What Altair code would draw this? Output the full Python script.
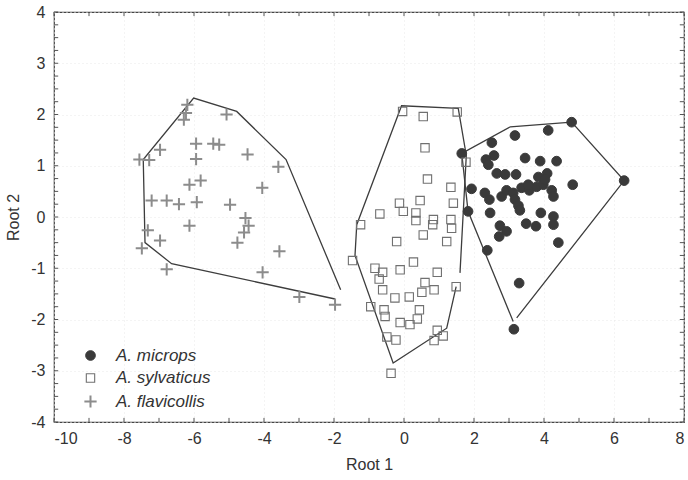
import altair as alt
import pandas as pd

species = ["A. microps", "A. sylvaticus", "A. flavicollis"]

# Discriminant scores (Root 1, Root 2) for each specimen
microps_x = [4.79, 4.12, 3.17, 2.51, 1.65, 2.57, 2.34, 2.41, 3.46, 3.89, 4.36, 2.65,
             2.89, 3.20, 3.84, 4.09, 4.82, 6.29, 1.93, 2.31, 2.44, 2.79, 2.93, 3.12,
             3.36, 3.58, 3.79, 3.98, 4.03, 4.22, 4.27, 3.17, 3.27, 3.31, 2.46, 3.91,
             4.27, 4.27, 3.49, 3.77, 2.74, 2.93, 2.72, 1.83, 4.41, 2.38, 3.29, 3.14, 3.55]
microps_y = [1.85, 1.69, 1.59, 1.45, 1.24, 1.20, 1.12, 1.02, 1.15, 1.09, 1.09, 0.85,
             0.83, 0.83, 0.78, 0.85, 0.63, 0.71, 0.55, 0.47, 0.34, 0.40, 0.52, 0.47,
             0.57, 0.52, 0.59, 0.63, 0.73, 0.52, 0.40, 0.34, 0.22, 0.13, 0.08, 0.08,
             0.01, -0.15, -0.13, -0.18, -0.17, -0.28, -0.38, 0.11, -0.50, -0.65, -1.29, -2.19, 0.63]

sylvaticus_x = [-0.04, 0.55, 1.52, 0.60, 0.67, 1.34, -0.13, 0.46, 1.41, -0.69, -0.02, 0.34,
                0.34, 0.84, 1.34, -1.24, 1.77, 0.82, 1.36, 0.55, -0.21, 1.22, -1.47, 0.27,
                -0.83, -0.11, -0.61, 0.95, -0.71, 0.60, 1.49, -0.61, 0.86, 0.51, -0.26, 0.15,
                -0.95, -0.57, -0.54, 0.44, 0.38, -0.11, 0.17, -0.49, -0.23, 0.95, 1.12, 0.86, -0.37]
sylvaticus_y = [2.06, 1.96, 2.05, 1.35, 0.74, 0.58, 0.27, 0.32, 0.27, 0.06, 0.11, 0.08,
                -0.07, -0.05, -0.05, -0.15, 1.07, -0.15, -0.22, -0.35, -0.48, -0.48, -0.85, -0.88,
                -1.00, -1.03, -1.08, -1.08, -1.21, -1.28, -1.36, -1.42, -1.42, -1.47, -1.58, -1.56,
                -1.75, -1.81, -1.94, -1.81, -1.99, -2.06, -2.10, -2.34, -2.40, -2.21, -2.32, -2.41, -3.05]

flavicollis_x = [-6.19, -6.23, -6.29, -5.07, -6.97, -7.56, -7.28, -5.94, -5.45, -5.28, -5.94, -4.47,
                 -3.59, -6.13, -5.81, -4.05, -7.21, -6.78, -6.43, -5.92, -4.97, -6.13, -4.53, -4.44,
                 -4.57, -4.76, -7.32, -6.97, -7.49, -6.78, -3.56, -4.04, -2.99, -1.97]
flavicollis_y = [2.19, 2.03, 1.90, 2.00, 1.31, 1.12, 1.11, 1.43, 1.43, 1.41, 1.13, 1.22,
                 0.98, 0.63, 0.71, 0.57, 0.32, 0.32, 0.25, 0.29, 0.24, -0.17, -0.02, -0.17,
                 -0.30, -0.50, -0.26, -0.46, -0.61, -1.02, -0.67, -1.08, -1.56, -1.71]

# Outline polygons drawn around each group (open at one corner)
hull_microps_x = [3.22, 6.29, 4.79, 3.04, 1.65, 1.83, 3.12]
hull_microps_y = [-1.97, 0.71, 1.85, 1.76, 1.24, 0.11, -2.04]
hull_sylvaticus_x = [1.60, 1.78, 1.55, -0.07, -1.35, -1.40, -0.31, 1.22, 1.49]
hull_sylvaticus_y = [-1.09, 1.20, 2.12, 2.17, -0.15, -0.75, -2.85, -2.17, -1.36]
hull_flavicollis_x = [-1.81, -3.37, -4.78, -6.01, -7.45, -7.40, -6.64, -1.97]
hull_flavicollis_y = [-1.42, 1.12, 2.06, 2.32, 1.12, -0.50, -0.91, -1.60]

x_labels = [-10, -8, -6, -4, -2, 0, 2, 4, 6, 8]
y_labels = [-4, -3, -2, -1, 0, 1, 2, 3, 4]
x_ticks = list(range(-10, 9))
y_ticks = [v / 4 for v in range(-16, 17)]

X_DOMAIN = [-10, 8]
Y_DOMAIN = [-4, 4]

points = pd.concat([
    pd.DataFrame({"root1": microps_x, "root2": microps_y, "species": species[0]}),
    pd.DataFrame({"root1": sylvaticus_x, "root2": sylvaticus_y, "species": species[1]}),
    pd.DataFrame({"root1": flavicollis_x, "root2": flavicollis_y, "species": species[2]}),
], ignore_index=True)

hulls = pd.concat([
    pd.DataFrame({"root1": hx, "root2": hy, "group": name, "idx": range(len(hx))})
    for name, hx, hy in [
        (species[0], hull_microps_x, hull_microps_y),
        (species[1], hull_sylvaticus_x, hull_sylvaticus_y),
        (species[2], hull_flavicollis_x, hull_flavicollis_y),
    ]
], ignore_index=True)

# inward tick marks on all four sides of the frame
xtick_df = pd.concat([
    pd.DataFrame({"root1": x_ticks, "root2": -4.0, "root2_end": -3.92}),
    pd.DataFrame({"root1": x_ticks, "root2": 4.0, "root2_end": 3.92}),
], ignore_index=True)
ytick_df = pd.concat([
    pd.DataFrame({"root2": y_ticks, "root1": -10.0, "root1_end": -9.88}),
    pd.DataFrame({"root2": y_ticks, "root1": 8.0, "root1_end": 7.88}),
], ignore_index=True)

x_scale = alt.Scale(domain=X_DOMAIN, nice=False, zero=False)
y_scale = alt.Scale(domain=Y_DOMAIN, nice=False, zero=False)

# plain hyphen-minus labels
plain_label = "'' + datum.value"

x_axis = alt.Axis(values=x_labels, ticks=False, tickSize=0, domain=False,
                  labelPadding=8, titlePadding=10, grid=True, labelExpr=plain_label,
                  gridColor="#e8e8e8", gridDash=[1, 3])
y_axis = alt.Axis(values=y_labels, ticks=False, tickSize=0, domain=False,
                  labelPadding=9, titlePadding=9, grid=True, labelExpr=plain_label,
                  gridColor="#e8e8e8", gridDash=[1, 3])


def xenc(field="root1"):
    return alt.X(f"{field}:Q", scale=x_scale, axis=x_axis, title="Root 1")


def yenc(field="root2"):
    return alt.Y(f"{field}:Q", scale=y_scale, axis=y_axis, title="Root 2")


sp = dict(domain=species)
legend = alt.Legend(title=None)

hull_layer = alt.Chart(hulls).mark_line(color="#3d3d3d", strokeWidth=1.3).encode(
    x=xenc(), y=yenc(), detail="group:N", order="idx:Q"
)

point_layer = alt.Chart(points).mark_point(opacity=1).encode(
    x=xenc(), y=yenc(),
    shape=alt.Shape("species:N", scale=alt.Scale(
        range=["circle", "square", "M-1,0H1M0,-1V1"], **sp), legend=legend),
    fill=alt.Fill("species:N", scale=alt.Scale(
        range=["#3a3a3a", "transparent", "transparent"], **sp), legend=legend),
    stroke=alt.Stroke("species:N", scale=alt.Scale(
        range=["#3a3a3a", "#707070", "#8c8c8c"], **sp), legend=legend),
    size=alt.Size("species:N", scale=alt.Scale(
        type="ordinal", range=[94, 70, 150], **sp), legend=legend),
    strokeWidth=alt.StrokeWidth("species:N", scale=alt.Scale(
        type="ordinal", range=[1, 1.1, 2.0], **sp), legend=legend),
)

xtick_layer = alt.Chart(xtick_df).mark_rule(color="#555555", strokeWidth=1).encode(
    x=xenc(), y=yenc(), y2="root2_end:Q"
)
ytick_layer = alt.Chart(ytick_df).mark_rule(color="#555555", strokeWidth=1).encode(
    y=yenc(), x=xenc(), x2="root1_end:Q"
)

chart = (
    alt.layer(hull_layer, point_layer, xtick_layer, ytick_layer)
    .properties(
        width=630, height=410,
        autosize=alt.AutoSizeParams(type="none"),
        padding={"left": 54, "top": 12, "right": 4, "bottom": 58},
    )
    .configure(font="Liberation Sans")
    .configure_view(stroke="#444444", strokeWidth=1.2)
    .configure_axis(labelFontSize=16, titleFontSize=16, labelColor="#333333",
                    titleColor="#333333", titleFontWeight="normal")
    .configure_legend(orient="none", legendX=28, legendY=335, padding=0,
                      labelFontSize=17, labelFontStyle="italic", labelColor="#333333",
                      labelOffset=17, rowPadding=4.5)
)

chart.save("out.html", embed_options={"renderer": "svg", "actions": False})
